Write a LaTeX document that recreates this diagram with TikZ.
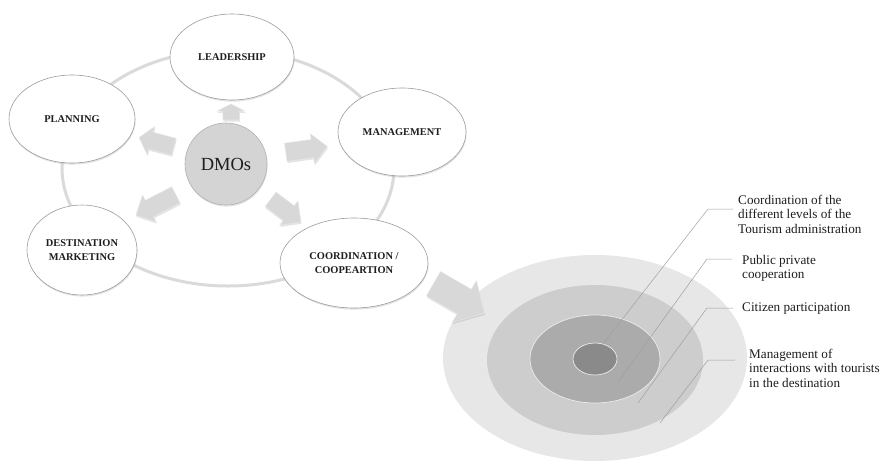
\documentclass[tikz,border=0pt]{standalone}
\usepackage{fontspec}
\setmainfont{Liberation Serif}
\usetikzlibrary{shapes.geometric,shapes.arrows,shadows}

\definecolor{ringgray}{HTML}{DADADA}
\definecolor{edgegray}{HTML}{9C9C9C}
\definecolor{arrowfill}{HTML}{D8D8D8}
\definecolor{hubfill}{HTML}{D4D4D4}
\definecolor{levelA}{HTML}{E7E7E7}
\definecolor{levelB}{HTML}{CDCDCD}
\definecolor{levelC}{HTML}{ABABAB}
\definecolor{levelD}{HTML}{8A8A8A}
\definecolor{inkgray}{HTML}{1E1E1E}

\tikzset{
  softshadow/.style={drop shadow={opacity=0.22, shadow xshift=0.6pt, shadow yshift=-1.6pt}},
  topic/.style={ellipse, draw=edgegray, line width=0.6pt, fill=white, softshadow,
    inner sep=0pt, outer sep=0pt, align=center, text=inkgray,
    font=\bfseries\fontsize{10.4}{14.3}\selectfont},
  hub/.style={circle, draw=edgegray!80, line width=0.6pt, fill=hubfill, softshadow,
    inner sep=0pt, minimum size=82pt, text=inkgray, font=\fontsize{18.5}{20}\selectfont},
  % shaft width = 2 * inner ysep, head width = shaft + 2 * head extend
  blockarrow/.style={single arrow, fill=arrowfill, draw=white!92!black, line width=0.4pt,
    softshadow, inner xsep=0pt, outer sep=0pt, text height=0pt, text depth=0pt,
    single arrow head indent=0pt},
  level/.style={ellipse, inner sep=0pt, outer sep=0pt},
  lead/.style={draw=gray!75, line width=0.5pt},
  note/.style={anchor=north west, align=left, inner sep=0pt, text=inkgray,
    font=\fontsize{13.2}{14.3}\selectfont}
}

\begin{document}
\begin{tikzpicture}[x=1pt,y=-1pt]
\useasboundingbox (0,0) rectangle (886,464);

% ring joining the five functions
\draw[ringgray, line width=3pt] (228,168) ellipse [x radius=166, y radius=118];

% arrows leaving the hub
\node[blockarrow, minimum height=16pt, inner ysep=8pt,
      single arrow head extend=6pt, single arrow tip angle=126, rotate=90] (aup) at (231,114) {};
\node[blockarrow, minimum height=36pt, inner ysep=8.5pt,
      single arrow head extend=6pt, single arrow tip angle=100, rotate=165] (aleft) at (160,143) {};
\node[blockarrow, minimum height=42pt, inner ysep=9pt,
      single arrow head extend=6pt, single arrow tip angle=90, rotate=8] (aright) at (302,150) {};
\node[blockarrow, minimum height=45pt, inner ysep=9pt,
      single arrow head extend=6pt, single arrow tip angle=90, rotate=207] (adl) at (160,203) {};
\node[blockarrow, minimum height=38pt, inner ysep=9pt,
      single arrow head extend=6pt, single arrow tip angle=90, rotate=-37] (adr) at (282,208) {};

% the five functions
\node[topic, minimum width=124pt, minimum height=86pt] (lead) at (232,57) {LEADERSHIP};
\node[topic, minimum width=126pt, minimum height=88pt] (plan) at (72,119) {PLANNING};
\node[topic, minimum width=128pt, minimum height=88pt] (mgmt) at (402,132) {MANAGEMENT};
\node[topic, minimum width=110pt, minimum height=90pt] (mkt) at (82,250) {DESTINATION\\MARKETING};
\node[topic, minimum width=148pt, minimum height=90pt] (coord) at (354,263) {COORDINATION /\\COOPEARTION};

% hub
\node[hub] (dmo) at (226,164) {DMOs};

% nested levels of coordination
\node[level, fill=levelA, minimum width=304pt, minimum height=206pt] (lv1) at (595,358) {};
\node[level, fill=levelB, minimum width=216pt, minimum height=150pt] (lv2) at (595,360) {};
\node[level, fill=levelC, draw=white!85!gray, line width=0.7pt,
      minimum width=130pt, minimum height=88pt] (lv3) at (595,359) {};
\node[level, fill=levelD, draw=white!85!gray, line width=0.7pt,
      minimum width=44pt, minimum height=32pt] (lv4) at (595,359) {};

% arrow into the levels
\node[blockarrow, minimum height=59pt, inner ysep=14pt,
      single arrow head extend=10pt, single arrow tip angle=92, rotate=-30] (abig) at (453,295) {};

% labels of the levels
\node[note] (t1) at (738,195) {Coordination of the\\different levels of the\\Tourism administration};
\node[note] (t2) at (742,255) {Public private\\cooperation};
\node[note] (t3) at (742,303) {Citizen participation};
\node[note] (t4) at (749,349) {Management of\\interactions with tourists\\in the destination};

% leader lines
\coordinate (s1) at (603,344); \coordinate (k1) at (708,209);
\coordinate (s2) at (618,382); \coordinate (k2) at (707,259);
\coordinate (s3) at (638,403); \coordinate (k3) at (707,308);
\coordinate (s4) at (660,423); \coordinate (k4) at (708,360);
\draw[lead] (s1) -- (k1) -- ([xshift=-5pt]k1 -| t1.west);
\draw[lead] (s2) -- (k2) -- ([xshift=-10pt]k2 -| t2.west);
\draw[lead] (s3) -- (k3) -- ([xshift=-9pt]k3 -| t3.west);
\draw[lead] (s4) -- (k4) -- ([xshift=-14pt]k4 -| t4.west);
\end{tikzpicture}
\end{document}
